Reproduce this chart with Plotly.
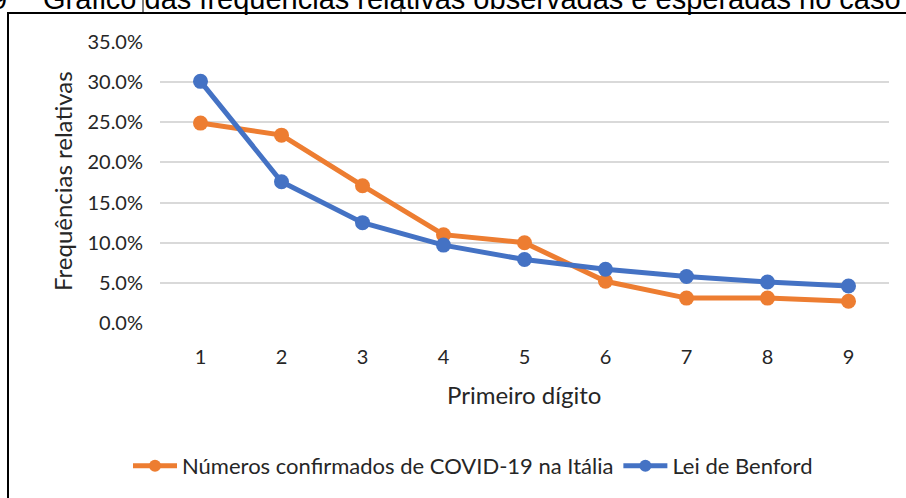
import plotly.graph_objects as go

digitos = [1, 2, 3, 4, 5, 6, 7, 8, 9]
italia = [0.249, 0.234, 0.171, 0.110, 0.100, 0.052, 0.031, 0.031, 0.027]
benford = [0.301, 0.176, 0.125, 0.097, 0.079, 0.067, 0.058, 0.051, 0.046]
nome_italia = "Números confirmados de COVID-19 na Itália"
nome_benford = "Lei de Benford"
y_ticks = [0, 0.05, 0.10, 0.15, 0.20, 0.25, 0.30, 0.35]

W, H = 906, 498
L, R, T, B = 160, 889, 42, 323  # plot area in px

def px(x):
    return (x - L) / (R - L)

def py(y):
    return (B - y) / (B - T)

FONT = "Lato"
TXT = "#262626"

fig = go.Figure()
fig.add_trace(go.Scatter(x=digitos, y=italia, name=nome_italia, mode="lines+markers",
                         line=dict(color="#ED7D31", width=5), marker=dict(size=15, color="#ED7D31")))
fig.add_trace(go.Scatter(x=digitos, y=benford, name=nome_benford, mode="lines+markers",
                         line=dict(color="#4472C4", width=5), marker=dict(size=15, color="#4472C4")))

fig.update_layout(
    width=W, height=H,
    margin=dict(l=L, r=W - R, t=T, b=H - B, autoexpand=False),
    paper_bgcolor="white", plot_bgcolor="white",
    font=dict(family=FONT, color=TXT),
    showlegend=True,
    legend=dict(orientation="h", x=px(473), xanchor="center", y=py(466), yanchor="middle",
                font=dict(size=22, family=FONT, color=TXT), itemwidth=44,
                tracegroupgap=0, itemsizing="constant"),
    xaxis=dict(range=[0.5, 9.5], tickvals=digitos, showgrid=False, zeroline=False,
               showline=False, ticks="", tickfont=dict(size=20, family=FONT, color=TXT),
               ticklabelstandoff=20),
    yaxis=dict(range=[0, 0.35], tickvals=y_ticks, tickformat=".1%", showgrid=True,
               gridcolor="#D9D9D9", gridwidth=1.5, zeroline=False, showline=False, ticks="",
               tickfont=dict(size=20, family=FONT, color=TXT), ticklabelstandoff=16),
)

fig.add_annotation(x=px(62), y=py(181), xref="paper", yref="paper", xanchor="center", yanchor="middle",
                   text="Frequências relativas", textangle=-90, showarrow=False,
                   font=dict(size=24, family=FONT, color=TXT))
fig.add_annotation(x=px(524), y=py(394), xref="paper", yref="paper", xanchor="center", yanchor="middle",
                   text="Primeiro dígito", showarrow=False, font=dict(size=24, family=FONT, color=TXT))

# cut-off caption above the chart box
fig.add_annotation(x=px(9), y=py(17), xref="paper", yref="paper", xanchor="right", yanchor="bottom",
                   text="9", showarrow=False, font=dict(size=29, family="Liberation Sans", color="black"))
fig.add_annotation(x=px(41), y=py(17), xref="paper", yref="paper", xanchor="left", yanchor="bottom",
                   text="Gráfico das frequências relativas observadas e esperadas no caso",
                   showarrow=False, font=dict(size=29, family="Liberation Sans", color="black"))

# chart box border
fig.add_shape(type="rect", xref="paper", yref="paper", x0=px(8), x1=px(915), y0=py(510), y1=py(13),
              line=dict(color="black", width=2), fillcolor="rgba(0,0,0,0)", layer="above")
for xx in [143, 401]:
    fig.add_shape(type="line", xref="paper", yref="paper", x0=px(xx), x1=px(xx), y0=py(13), y1=py(-5),
                  line=dict(color="black", width=1))

fig.write_html("out.html", config={"displayModeBar": False},
               post_script="document.body.style.margin='0';document.body.style.overflow='hidden';")
